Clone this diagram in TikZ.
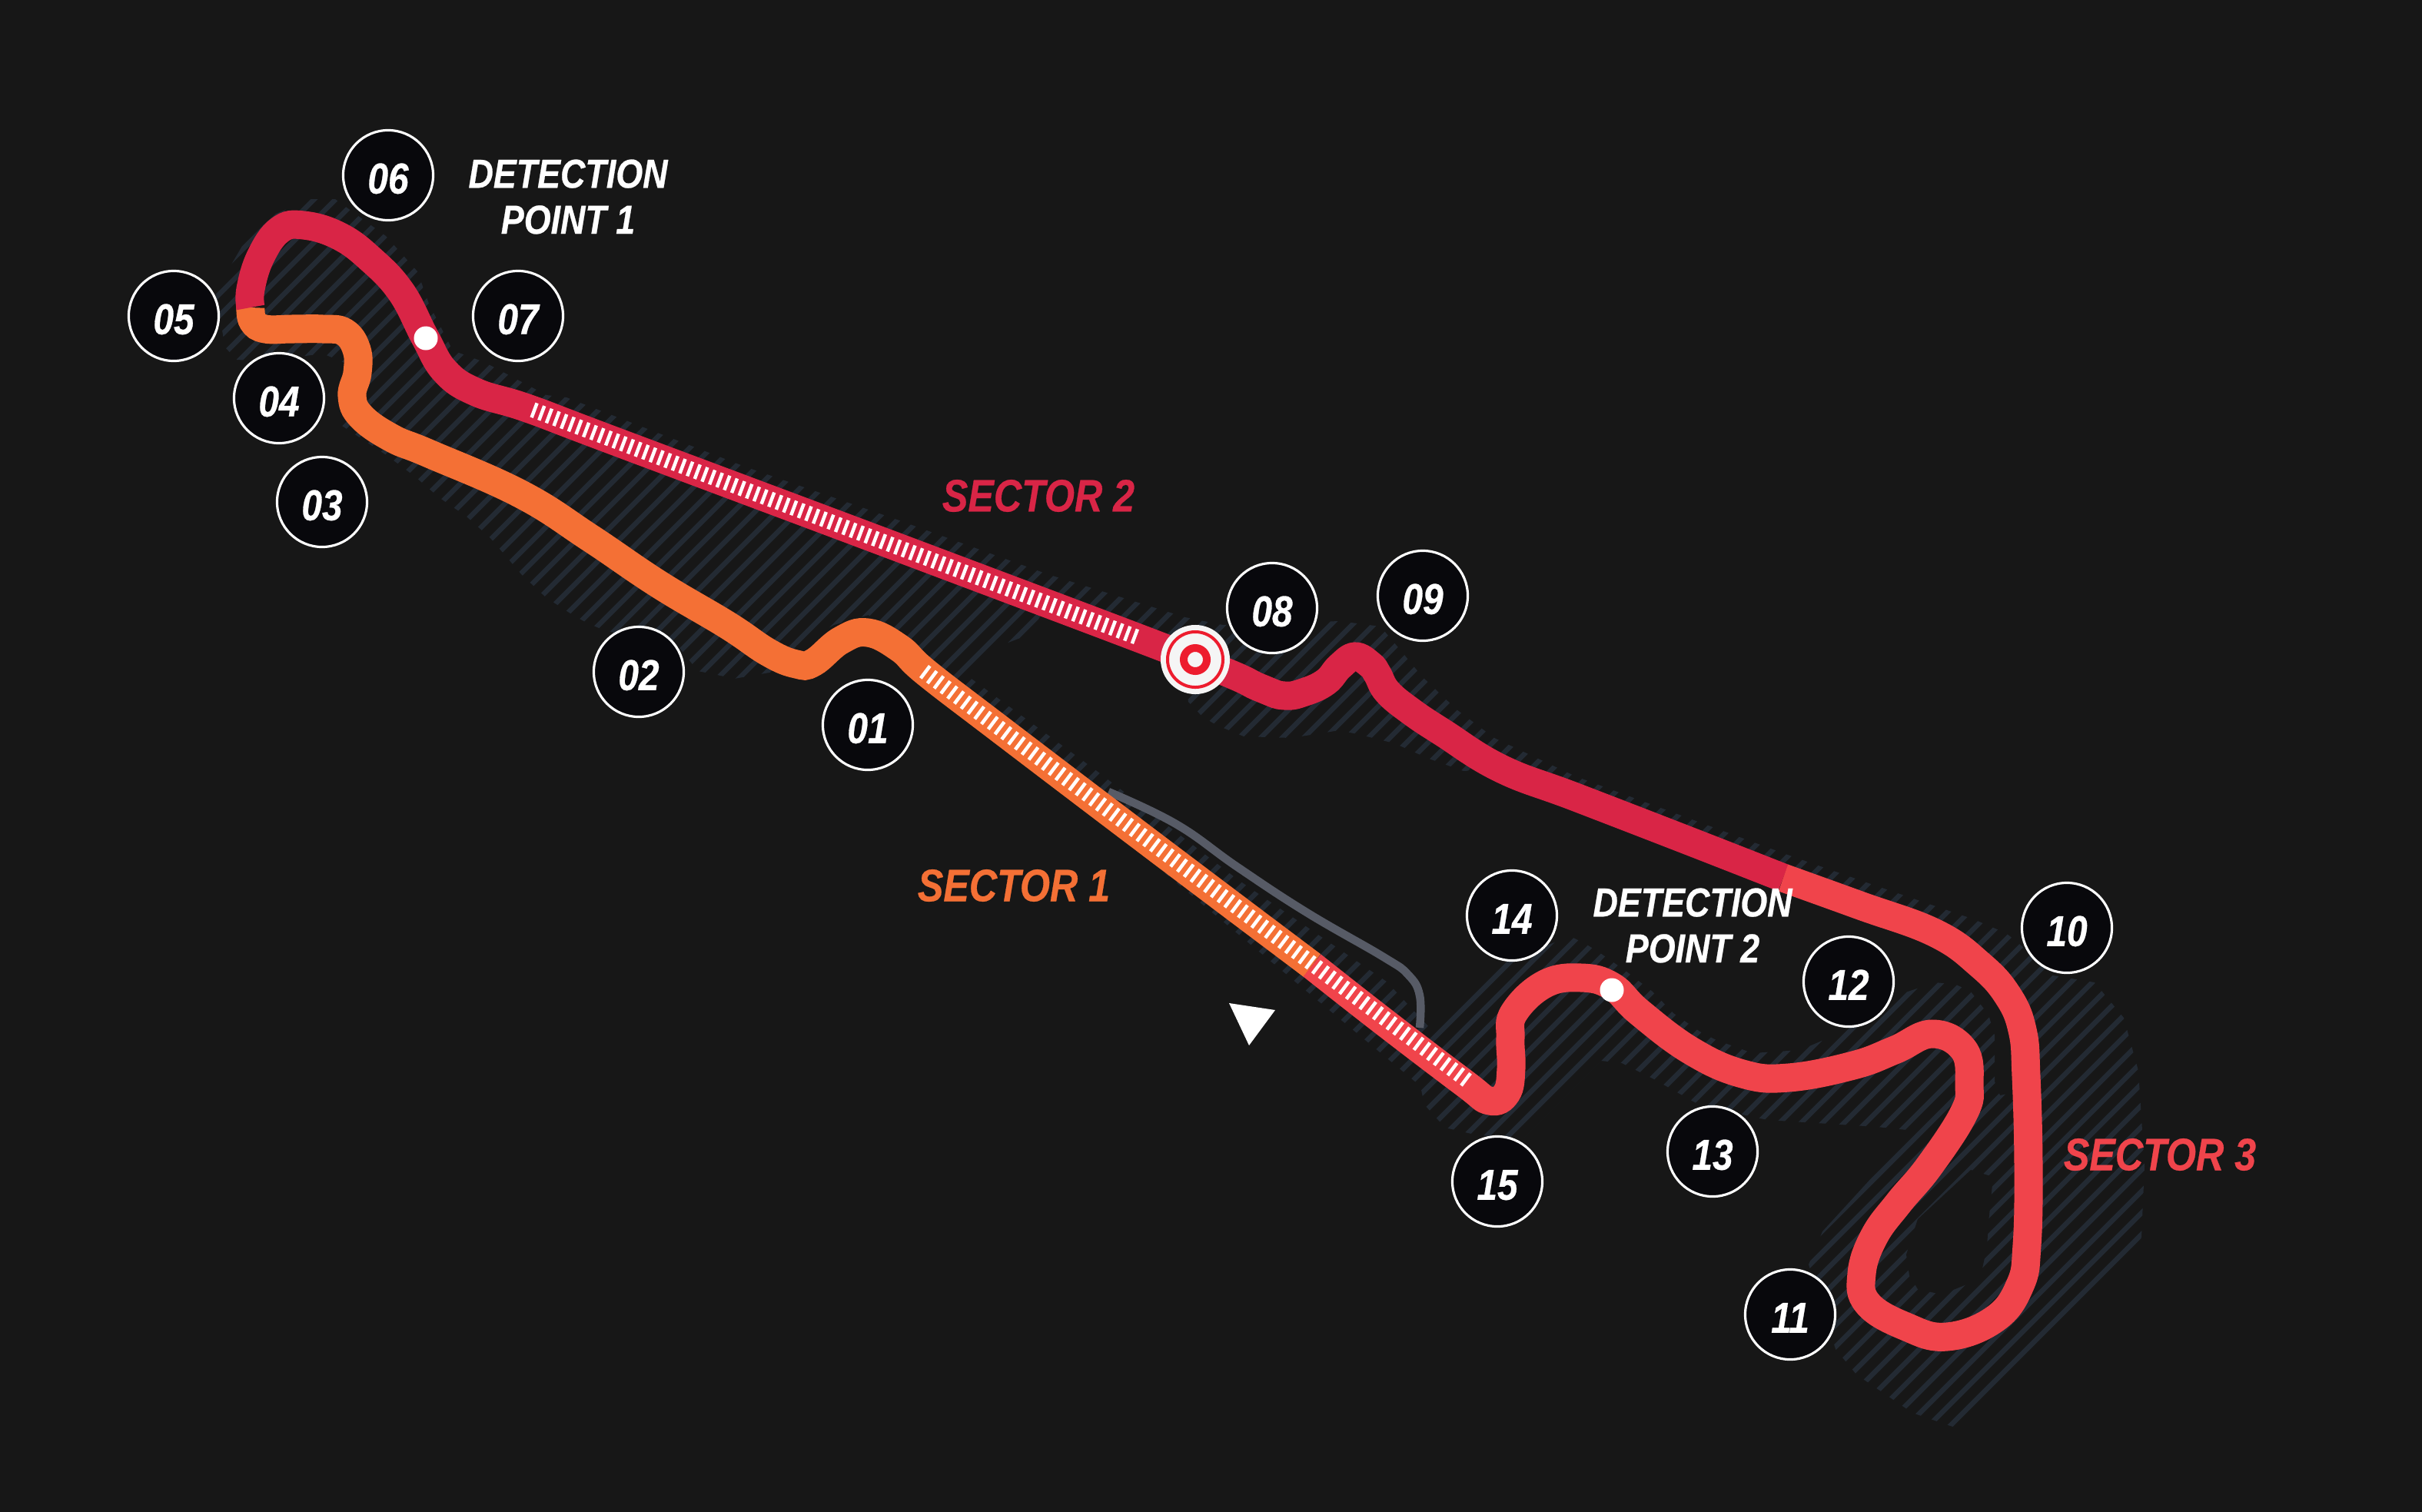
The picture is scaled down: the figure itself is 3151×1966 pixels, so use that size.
\documentclass[tikz,border=0pt]{standalone}
\usepackage{fontspec}
\setmainfont{Liberation Sans}[FakeStretch=0.85, FakeBold=0.5]
\definecolor{ground}{RGB}{23,23,23}
\definecolor{hatch}{RGB}{35,42,51}
\definecolor{pit}{RGB}{87,91,102}
\definecolor{secone}{RGB}{244,112,53}
\definecolor{sectwo}{RGB}{217,37,70}
\definecolor{secthree}{RGB}{240,68,75}
\definecolor{bullseye}{RGB}{237,28,46}
\definecolor{turnfill}{RGB}{8,8,12}
\tikzset{
  track/.style={line width=3.7mm},
  drs/.style={white, line width=2mm, dash pattern=on 0.045cm off 0.058cm},
  turn/.style={
    circle,
    draw=white,
    line width=0.9pt,
    fill=turnfill,
    minimum size=11.7mm,
    inner sep=0pt,
    text=white,
    text height=13.5pt,
    text depth=0pt,
    font=\fontsize{16}{18}\selectfont\bfseries\itshape
  },
  sector/.style={font=\fontsize{16.8}{19}\selectfont\bfseries\itshape, inner sep=0pt},
  detect/.style={
    align=center,
    text=white,
    inner sep=0pt,
    font=\fontsize{15}{17}\selectfont\bfseries\itshape
  },
  marker/.style={circle, fill=white, inner sep=0pt, minimum size=3.1mm}
}
\begin{document}
\begin{tikzpicture}[x=0.01cm, y=-0.01cm]
    \useasboundingbox (0,0) rectangle (3151,1966);
    \fill[ground] (-5,-5) rectangle (3156,1971);

    % run-off areas
    \begin{scope}
      \clip plot coordinates {(359,278) (405,259) (436,259) (502,307) (543,353) (558,395) (589,456) (630,471) (711,514) (737,517) (969,607) (1170,677) (1363,747) (1542,803) (1591,813) (1743,808) (1796,815) (1823,847) (1850,880) (1895,923) (1944,960) (2050,1010) (2320,1110) (2320,1142) (2050,1037) (1953,1000) (1904,1003) (1859,987) (1814,967) (1774,957) (1743,950) (1680,960) (1618,958) (1582,943) (1564,932) (1546,913) (1540,860) (1360,790) (1340,825) (1304,839) (1263,870) (1253,883) (1202,875) (1130,800) (1085,813) (1036,840) (1041,868) (955,883) (933,878) (908,873) (884,843) (786,820) (763,810) (745,800) (710,777) (679,748) (638,700) (607,672) (571,647) (540,620) (504,593) (436,548) (462,520) (455,475) (420,460) (345,470) (308,468) (293,452) (280,380) (318,315)} -- cycle
        plot coordinates {(2320,1110) (2434,1150) (2568,1196) (2610,1214) (2633,1233) (2671,1269) (2725,1278) (2763,1324) (2782,1393) (2790,1517) (2786,1609) (2771,1668) (2748,1719) (2671,1801) (2595,1852) (2549,1859) (2488,1838) (2415,1788) (2388,1755) (2353,1645) (2371,1602) (2491,1471) (2442,1466) (2300,1457) (2280,1453) (2210,1437) (2150,1403) (2110,1383) (2083,1380) (2040,1423) (1983,1480) (1923,1477) (1880,1467) (1853,1437) (1848,1413) (1205,877) (1140,795) (1200,835) (1253,875) (1427,1003) (1610,1144) (1804,1277) (1860,1337) (1923,1282) (1953,1253) (2043,1218) (2063,1228) (2082,1240) (2115,1263) (2133,1277) (2150,1290) (2177,1318) (2213,1343) (2233,1353) (2280,1370) (2342,1366) (2396,1343) (2476,1292) (2518,1278) (2545,1281) (2564,1290) (2587,1320) (2595,1347) (2595,1407) (2602,1425) (2625,1420) (2629,1334) (2578,1244) (2508,1202) (2320,1142)} -- cycle;
      \foreach \h in {500,528,...,4400}
        \draw[hatch, line width=0.65mm] (\h,0) -- (\h-2000,2000);
      \fill[ground] (2495,1586) -- (2564,1522) -- (2593,1531) -- (2587,1590) -- (2585,1622) -- (2576,1664) -- (2526,1684) -- (2495,1677) -- (2484,1659) -- (2480,1632) -- cycle;
    \end{scope}

    % pit lane
    \draw[pit, line width=1.05mm] plot[smooth, tension=0.7] coordinates {(1442,1030) (1530,1072) (1610,1128) (1700,1187) (1800,1245) (1832,1268) (1847,1295) (1847,1337)};

    % sectors
    \draw[track, secone] plot[smooth, tension=0.7] coordinates {(1707,1256) (1500,1100) (1300,948) (1205,875) (1170,843) (1129,823) (1094,833) (1058,862) (1036,864) (1000,849) (946,813) (857,760) (768,700) (678,643) (558,590) (510,570) (470,542) (458,515) (465,485) (464,455) (448,432) (420,428) (380,428) (345,428) (329,418) (326,400)};
    \draw[track, sectwo] plot[smooth, tension=0.7] coordinates {(326,400) (326,376) (339,334) (364,299) (395,293) (441,307) (482,337) (522,380) (553,439) (579,483) (619,510) (686,531) (800,574) (1200,724) (1554,858) (1640,895) (1671,905) (1698,900) (1725,887) (1743,867) (1763,854) (1783,865) (1792,877) (1805,900) (1835,925) (1877,953) (1953,1000) (2050,1037) (2200,1095) (2320,1142)};
    \draw[track, secthree] plot[smooth, tension=0.7] coordinates {(2320,1142) (2420,1178) (2518,1214) (2576,1255) (2612,1295) (2631,1340) (2636,1400) (2639,1517) (2637,1620) (2628,1672) (2595,1716) (2533,1739) (2480,1726) (2430,1696) (2422,1657) (2438,1609) (2470,1565) (2510,1517) (2555,1448) (2562,1411) (2555,1366) (2514,1345) (2465,1366) (2411,1386) (2327,1402) (2267,1397) (2200,1367) (2133,1317) (2097,1283) (2057,1272) (2010,1280) (1970,1317) (1965,1350) (1966,1390) (1960,1422) (1938,1432) (1905,1409) (1800,1329) (1707,1256)};

    % zones on the straights
    \coordinate (drsa) at (693,533);
    \coordinate (drsb) at (1482,830);
    \coordinate (drsc) at (1202,873);
    \coordinate (drsd) at (1912,1408);
    \draw[drs] (drsa) -- (drsb);
    \draw[drs, dash pattern=on 0.045cm off 0.065cm] (drsc) -- (drsd);

    \node[marker] (dotone) at (554,440) {};
    \node[marker] (dottwo) at (2097,1288) {};

    \node[circle, fill=white!96!black, minimum size=9mm, inner sep=0pt] (startline) at (1555,858) {};
    \node[circle, draw=bullseye, line width=0.4mm, minimum size=7.2mm, inner sep=0pt] (ringouter) at (startline) {};
    \node[circle, draw=bullseye, line width=1mm, minimum size=3mm, inner sep=0pt] (ringinner) at (startline) {};

    \fill[white] (1599,1305) -- (1659,1314) -- (1625,1360) -- cycle;

    \node[turn] (turn01) at (1129,943) {01};
    \node[turn] (turn02) at (831,874) {02};
    \node[turn] (turn03) at (419,653) {03};
    \node[turn] (turn04) at (363,518) {04};
    \node[turn] (turn05) at (226,411) {05};
    \node[turn] (turn06) at (505,228) {06};
    \node[turn] (turn07) at (674,411) {07};
    \node[turn] (turn08) at (1655,791) {08};
    \node[turn] (turn09) at (1851,775) {09};
    \node[turn] (turn10) at (2689,1207) {10};
    \node[turn] (turn11) at (2329,1710) {11};
    \node[turn] (turn12) at (2405,1277) {12};
    \node[turn] (turn13) at (2228,1498) {13};
    \node[turn] (turn14) at (1967,1191) {14};
    \node[turn] (turn15) at (1948,1537) {15};

    \node[sector, text=secone] (secta) at (1319,1152) {SECTOR 1};
    \node[sector, text=sectwo] (sectb) at (1351,645) {SECTOR 2};
    \node[sector, text=secthree] (sectc) at (2810,1502) {SECTOR 3};
    \node[detect] (detecta) at (739,256) {DETECTION\\POINT 1};
    \node[detect] (detectb) at (2202,1204) {DETECTION\\POINT 2};
\end{tikzpicture}
\end{document}
